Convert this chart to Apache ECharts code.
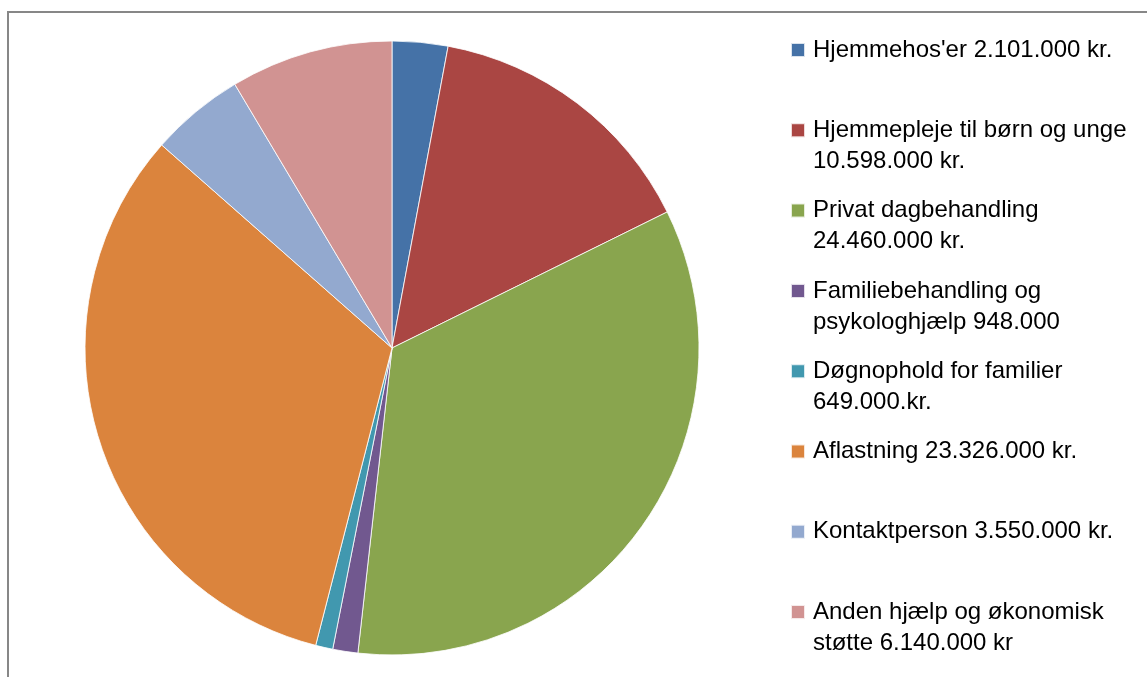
<!DOCTYPE html>
<html>
<head>
<meta charset="utf-8">
<script src="https://cdn.jsdelivr.net/npm/echarts@6/dist/echarts.min.js"></script>
<style>
  html, body { margin: 0; padding: 0; background: #fff; }
  #main { width: 1147px; height: 677px; }
</style>
</head>
<body>
<div id="main"></div>
<script>
// kategorier (navn i datasættet)
const categories = [
  "Hjemmehos'er",
  'Hjemmepleje til børn og unge',
  'Privat dagbehandling',
  'Familiebehandling og psykologhjælp',
  'Døgnophold for familier',
  'Aflastning',
  'Kontaktperson',
  'Anden hjælp og økonomisk støtte'
];
// beløb i 1.000 kr.
const amounts = [2101, 10598, 24460, 948, 649, 23326, 3550, 6140];
// teksten som den står i forklaringen
const legendLabels = [
  "Hjemmehos'er 2.101.000 kr.",
  'Hjemmepleje til børn og unge\n10.598.000 kr.',
  'Privat dagbehandling\n24.460.000 kr.',
  'Familiebehandling og\npsykologhjælp 948.000',
  'Døgnophold for familier\n649.000.kr.',
  'Aflastning 23.326.000 kr.',
  'Kontaktperson 3.550.000 kr.',
  'Anden hjælp og økonomisk\nstøtte 6.140.000 kr'
];
const colors = ['#4572A7', '#AA4643', '#89A54E', '#71588F', '#4198AF', '#DB843D', '#93A9CF', '#D19392'];

const chart = echarts.init(document.getElementById('main'));

const lineH = 31;
const fontSize = 24;

// en forklaring pr. post, så afstanden bliver den samme som i Excel
const legends = categories.map((name, i) => {
  const lines = legendLabels[i].split('\n').length;
  const firstLine = 50 + i * 80.3;
  // teksten centreres på ikonet; en tom linje foran flytter første linje ned på ikonet
  const text = lines > 1 ? '\n' + legendLabels[i] : legendLabels[i];
  const half = lines > 1 ? (lines + 1) * lineH / 2 : lineH / 2;
  return {
    data: [name],
    orient: 'vertical',
    left: 790,
    top: firstLine - half,
    icon: 'rect',
    itemWidth: 14,
    itemHeight: 14,
    padding: 0,
    selectedMode: false,
    formatter: () => text,
    textStyle: {
      fontFamily: '"Liberation Sans", Arial, sans-serif',
      fontSize: fontSize,
      lineHeight: lineH,
      color: '#000',
      padding: [0, 0, 0, 3]
    }
  };
});

chart.setOption({
  animation: false,
  color: colors,
  legend: legends,
  graphic: [{
    type: 'rect',
    silent: true,
    shape: { x: 8, y: 12, width: 1300, height: 800 },
    style: { fill: 'none', stroke: '#878787', lineWidth: 2 }
  }],
  series: [{
    type: 'pie',
    center: [392, 348],
    radius: 307,
    startAngle: 90,
    clockwise: true,
    label: { show: false },
    labelLine: { show: false },
    emphasis: { disabled: true },
    itemStyle: { borderColor: 'rgba(255,255,255,0.8)', borderWidth: 1 },
    data: categories.map((name, i) => ({ name: name, value: amounts[i] }))
  }]
});
</script>
</body>
</html>
